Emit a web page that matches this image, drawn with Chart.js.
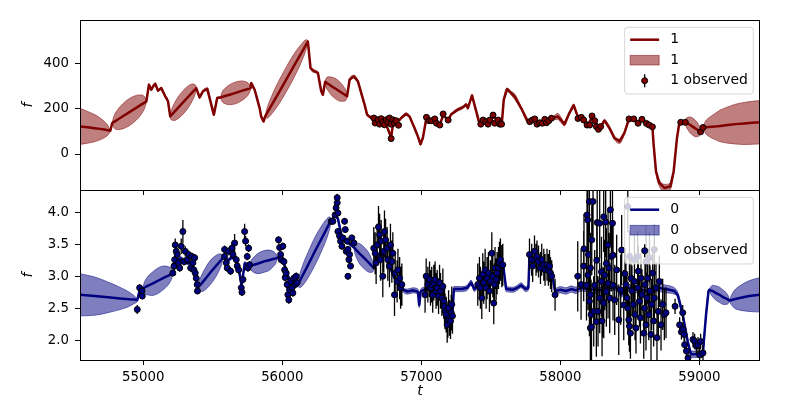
<!DOCTYPE html>
<html>
<head>
<meta charset="utf-8">
<script src="https://cdn.jsdelivr.net/npm/chart.js@4.4.1/dist/chart.umd.min.js"></script>
<style>
  html, body { margin: 0; padding: 0; background: #fff; }
  #wrap { position: relative; width: 800px; height: 400px; }
  #wrap canvas { position: absolute; left: 0; top: 0; }
</style>
</head>
<body>
<div id="wrap">
  <canvas id="top-chart" width="800" height="400"></canvas>
  <canvas id="bottom-chart" width="800" height="400"></canvas>
</div>
<script>
// shared x range and ticks
const xMin = 54545, xMax = 59436;
const xTicks = [55000, 56000, 57000, 58000, 59000];
const topYTicks = [0, 200, 400];
const botYTicks = [2.0, 2.5, 3.0, 3.5, 4.0];
const topLabels = ['1', '1', '1 observed'];
const botLabels = ['0', '0', '0 observed'];

// top panel model: [t, f, sigma]
const topLine = [
  [54545, 122, 80], [54600, 118, 70], [54650, 114, 60], [54690, 111, 48], [54720, 108, 36], [54745, 105, 22], [54763, 103, 3],
  [54777, 137, 3], [54787, 141, 23], [54814, 151, 43], [54851, 166, 55], [54900, 185, 60], [54949, 204, 55],
  [54985, 218, 43], [55012, 228, 23], [55022, 232, 4],
  [55041, 306, 5], [55058, 284, 5], [55072, 300, 5], [55086, 310, 5], [55106, 280, 5], [55129, 291, 5], [55158, 255, 5],
  [55178, 233, 5], [55194, 166, 4],
  [55201, 171, 20], [55222, 185, 37], [55250, 204, 48], [55288, 229, 52], [55325, 254, 48], [55353, 272, 37],
  [55374, 286, 20], [55381, 291, 4],
  [55405, 250, 5], [55429, 277, 5], [55460, 288, 5], [55508, 174, 5], [55532, 247, 5], [55556, 250, 4],
  [55565, 252, 19], [55588, 256, 34], [55621, 262, 44], [55664, 270, 48], [55707, 279, 44], [55740, 285, 34],
  [55763, 289, 19], [55772, 291, 4],
  [55776, 313, 5], [55801, 284, 5], [55837, 203, 5], [55848, 166, 5], [55866, 144, 5], [55877, 166, 4],
  [55889, 179, 21], [55923, 216, 39], [55969, 265, 51], [56030, 331, 55], [56092, 398, 51], [56138, 447, 39],
  [56172, 484, 21], [56184, 497, 4],
  [56203, 380, 5], [56232, 365, 5], [56256, 358, 5], [56280, 277, 5], [56292, 262, 5], [56308, 318, 4],
  [56314, 315, 18], [56332, 309, 32], [56355, 299, 41], [56387, 287, 45], [56419, 274, 41], [56442, 265, 32],
  [56460, 258, 18], [56466, 255, 4],
  [56484, 328, 5], [56515, 343, 5], [56544, 321, 5], [56568, 269, 5], [56592, 218, 5], [56610, 174, 5], [56635, 162, 4],
  [56660, 145, 4], [56700, 150, 4], [56740, 140, 4], [56783, 75, 4], [56800, 145, 4], [56843, 150, 4],
  [56855, 159, 5], [56891, 177, 5], [56915, 166, 5], [56951, 115, 5], [56975, 78, 6], [56994, 44, 6], [57011, 71, 5],
  [57037, 159, 4], [57060, 148, 4], [57100, 140, 4], [57133, 130, 4], [57157, 170, 4], [57193, 152, 4],
  [57214, 174, 5], [57262, 196, 6], [57298, 206, 6], [57322, 218, 6], [57334, 203, 6], [57365, 258, 6], [57382, 218, 6],
  [57418, 137, 5], [57450, 145, 4], [57492, 145, 4], [57516, 165, 4], [57550, 148, 4], [57579, 135, 4],
  [57593, 240, 5], [57617, 286, 6], [57646, 269, 8], [57672, 253, 12], [57718, 203, 6], [57766, 144, 5],
  [57800, 148, 4], [57840, 138, 4], [57880, 138, 4], [57936, 155, 4],
  [57960, 162, 10], [57981, 166, 14], [58005, 150, 12], [58029, 132, 8], [58065, 181, 6], [58096, 215, 6],
  [58120, 174, 5], [58137, 155, 4],
  [58160, 158, 4], [58200, 132, 4], [58228, 162, 4], [58254, 140, 4], [58274, 112, 4], [58290, 121, 4],
  [58317, 147, 6], [58353, 115, 8], [58389, 71, 8], [58425, 56, 10], [58461, 93, 8], [58494, 155, 4],
  [58528, 155, 4], [58559, 138, 4], [58587, 150, 4], [58619, 137, 4], [58638, 129, 4], [58662, 120, 4],
  [58671, 41, 6], [58688, -77, 10], [58712, -128, 14], [58748, -150, 16], [58791, -143, 14], [58815, -77, 10],
  [58839, 71, 6], [58856, 138, 4], [58866, 140, 4], [58899, 141, 4],
  [58903, 140, 15], [58916, 135, 27], [58932, 129, 35], [58954, 120, 38], [58976, 111, 35], [58993, 105, 27],
  [59005, 100, 15], [59009, 98, 3], [59026, 117, 3],
  [59030, 117, 10], [59045, 118, 28], [59070, 119, 42], [59108, 121, 56], [59150, 124, 70], [59203, 128, 80],
  [59260, 132, 88], [59323, 135, 93], [59380, 138, 95], [59436, 140, 96]
];

// top observations: [t, f, err]
const topObs = [
  [56659, 159, 3], [56668, 137, 3], [56688, 151, 3], [56700, 132, 3], [56711, 156, 3], [56723, 141, 3],
  [56735, 129, 3], [56747, 151, 3], [56759, 141, 3], [56771, 159, 3], [56783, 132, 3], [56783, 68, 3],
  [56795, 151, 3], [56807, 137, 3], [56819, 147, 3], [56836, 127, 3],
  [57037, 162, 3], [57056, 147, 3], [57073, 147, 3], [57097, 155, 3], [57109, 136, 3], [57133, 128, 3],
  [57157, 177, 3], [57193, 150, 3],
  [57428, 132, 3], [57444, 150, 3], [57464, 143, 3], [57480, 132, 3], [57492, 150, 3], [57516, 172, 3],
  [57528, 136, 3], [57552, 150, 3], [57564, 132, 3], [57577, 132, 3],
  [57780, 143, 3], [57799, 150, 3], [57816, 155, 3], [57832, 132, 3], [57852, 138, 3], [57871, 136, 3],
  [57888, 153, 3], [57900, 138, 3], [57917, 147, 3], [57936, 158, 3],
  [58127, 157, 3], [58151, 162, 3], [58168, 150, 3], [58192, 128, 3], [58211, 128, 3], [58228, 168, 3],
  [58247, 147, 3], [58259, 121, 3], [58274, 109, 3], [58290, 121, 3],
  [58494, 155, 3], [58528, 155, 3], [58559, 136, 3], [58587, 153, 3], [58619, 135, 3], [58638, 128, 3], [58662, 120, 3],
  [58866, 140, 3], [58899, 140, 3], [59009, 98, 3], [59026, 117, 3]
];

// bottom panel model: [t, f, sigma]
const botLine = [
  [54545, 2.71, 0.33], [54650, 2.69, 0.30], [54746, 2.67, 0.24], [54850, 2.65, 0.16], [54900, 2.64, 0.11],
  [54935, 2.635, 0.06], [54957, 2.63, 0.02], [54974, 2.78, 0.02], [54998, 2.81, 0.02],
  [55007, 2.82, 0.08], [55030, 2.85, 0.14], [55063, 2.88, 0.18], [55106, 2.93, 0.20], [55149, 2.98, 0.18],
  [55181, 3.01, 0.14], [55204, 3.04, 0.08], [55213, 3.05, 0.02],
  [55240, 3.25, 0.03], [55270, 3.28, 0.03], [55300, 3.22, 0.03], [55340, 3.20, 0.03], [55370, 3.05, 0.03], [55393, 2.82, 0.02],
  [55400, 2.84, 0.07], [55420, 2.89, 0.13], [55447, 2.96, 0.17], [55483, 3.06, 0.19], [55519, 3.15, 0.17],
  [55546, 3.22, 0.13], [55566, 3.27, 0.07], [55573, 3.29, 0.02],
  [55610, 3.25, 0.03], [55640, 3.30, 0.03], [55680, 3.20, 0.03], [55707, 2.86, 0.03], [55730, 3.20, 0.03], [55767, 3.16, 0.02],
  [55775, 3.17, 0.07], [55796, 3.18, 0.12], [55826, 3.20, 0.16], [55865, 3.23, 0.17], [55904, 3.25, 0.16],
  [55934, 3.27, 0.12], [55955, 3.28, 0.07], [55963, 3.29, 0.02],
  [55990, 3.30, 0.03], [56020, 3.15, 0.03], [56050, 2.95, 0.03], [56080, 2.88, 0.03], [56112, 2.87, 0.02],
  [56122, 2.91, 0.09], [56148, 3.02, 0.16], [56184, 3.17, 0.20], [56232, 3.38, 0.22], [56280, 3.58, 0.20],
  [56316, 3.73, 0.16], [56342, 3.84, 0.09], [56352, 3.88, 0.02],
  [56380, 3.95, 0.03], [56400, 3.90, 0.03], [56430, 3.60, 0.03], [56460, 3.55, 0.03], [56490, 3.50, 0.03], [56515, 3.45, 0.02],
  [56521, 3.44, 0.07], [56536, 3.40, 0.12], [56558, 3.35, 0.16], [56587, 3.29, 0.17], [56615, 3.23, 0.16],
  [56637, 3.18, 0.12], [56652, 3.14, 0.07], [56658, 3.13, 0.02],
  [56700, 3.35, 0.03], [56750, 3.30, 0.03], [56800, 3.00, 0.03], [56860, 2.80, 0.03],
  [56900, 2.76, 0.04], [56940, 2.78, 0.04], [56975, 2.76, 0.04], [56985, 2.55, 0.04], [56995, 2.76, 0.04],
  [57030, 2.80, 0.03], [57080, 2.78, 0.03], [57130, 2.72, 0.03], [57170, 2.55, 0.03], [57200, 2.42, 0.03], [57225, 2.45, 0.03],
  [57234, 2.80, 0.04], [57290, 2.80, 0.04], [57330, 2.82, 0.04], [57358, 2.90, 0.04], [57382, 2.80, 0.04],
  [57406, 2.85, 0.03], [57450, 2.95, 0.03], [57500, 3.00, 0.03], [57550, 3.10, 0.03], [57590, 3.15, 0.03],
  [57610, 2.80, 0.04], [57660, 2.79, 0.04], [57690, 2.82, 0.04], [57718, 2.86, 0.04], [57750, 2.80, 0.04], [57770, 2.82, 0.04],
  [57778, 3.30, 0.03], [57830, 3.28, 0.03], [57880, 3.20, 0.03], [57940, 3.05, 0.03], [57962, 2.77, 0.04],
  [58000, 2.79, 0.05], [58040, 2.77, 0.05], [58080, 2.80, 0.05], [58110, 2.78, 0.05], [58150, 2.82, 0.05],
  [58200, 2.80, 0.05], [58280, 2.78, 0.05], [58340, 2.82, 0.05], [58400, 2.83, 0.05], [58440, 2.72, 0.05],
  [58470, 2.84, 0.05], [58520, 2.80, 0.05], [58600, 2.78, 0.05], [58660, 2.75, 0.05], [58700, 2.82, 0.06],
  [58760, 2.80, 0.06], [58820, 2.77, 0.05], [58844, 2.71, 0.04], [58880, 2.40, 0.04], [58916, 1.98, 0.05],
  [58940, 1.78, 0.05], [59024, 1.78, 0.05], [59048, 2.40, 0.04], [59066, 2.77, 0.03], [59074, 2.79, 0.02],
  [59080, 2.78, 0.05], [59095, 2.77, 0.09], [59117, 2.74, 0.11], [59145, 2.71, 0.12], [59173, 2.67, 0.11],
  [59194, 2.65, 0.09], [59210, 2.63, 0.05], [59216, 2.62, 0.01],
  [59220, 2.62, 0.03], [59232, 2.63, 0.08], [59252, 2.64, 0.14], [59290, 2.66, 0.19], [59357, 2.69, 0.24], [59436, 2.71, 0.27]
];

// bottom observations: [t, f, err]
const botObs = [
  [54957, 2.48, 0.07], [54974, 2.82, 0.05], [54991, 2.77, 0.05], [54993, 2.69, 0.05],
  [55213, 3.05, 0.05], [55221, 3.16, 0.06], [55226, 3.26, 0.06], [55230, 3.49, 0.10], [55237, 3.39, 0.08],
  [55244, 3.34, 0.06], [55254, 3.21, 0.06], [55262, 3.13, 0.06], [55273, 3.47, 0.12], [55285, 3.70, 0.18],
  [55293, 3.23, 0.06], [55302, 3.39, 0.08], [55316, 3.26, 0.06], [55326, 3.34, 0.06], [55341, 3.13, 0.06],
  [55350, 3.31, 0.06], [55357, 3.21, 0.06], [55364, 3.10, 0.06], [55370, 3.29, 0.06], [55374, 3.05, 0.06],
  [55381, 2.97, 0.06], [55388, 2.87, 0.06], [55390, 2.77, 0.05],
  [55585, 3.42, 0.06], [55585, 3.31, 0.06], [55597, 3.21, 0.06], [55604, 3.13, 0.06], [55614, 3.39, 0.06],
  [55628, 3.08, 0.06], [55638, 3.44, 0.08], [55645, 3.34, 0.06], [55657, 3.52, 0.14], [55669, 3.26, 0.06],
  [55676, 3.16, 0.06], [55686, 3.10, 0.06], [55705, 2.82, 0.06], [55710, 2.75, 0.06], [55717, 2.95, 0.06],
  [55729, 3.70, 0.12], [55736, 3.55, 0.08], [55748, 3.31, 0.06], [55753, 3.13, 0.06], [55758, 3.44, 0.06], [55765, 3.18, 0.06],
  [55973, 3.57, 0.06], [55981, 3.45, 0.06], [55988, 3.34, 0.06], [55992, 3.26, 0.06], [56004, 3.47, 0.06],
  [56012, 3.23, 0.06], [56017, 3.10, 0.06], [56021, 2.98, 0.06], [56028, 3.05, 0.06], [56035, 2.87, 0.06],
  [56040, 2.71, 0.06], [56047, 2.63, 0.06], [56052, 2.79, 0.06], [56060, 2.92, 0.06], [56069, 2.82, 0.06],
  [56076, 2.74, 0.06], [56083, 2.97, 0.06], [56093, 2.87, 0.06], [56100, 3.00, 0.06], [56107, 2.90, 0.06],
  [56352, 3.86, 0.05], [56364, 3.86, 0.05], [56380, 3.96, 0.05], [56387, 4.07, 0.05], [56395, 4.15, 0.05],
  [56395, 4.23, 0.06], [56400, 3.99, 0.05], [56400, 3.70, 0.05], [56412, 3.63, 0.05], [56419, 3.55, 0.05],
  [56429, 3.47, 0.05], [56436, 3.60, 0.05], [56448, 3.86, 0.05], [56453, 3.73, 0.05], [56460, 3.39, 0.05],
  [56467, 3.55, 0.05], [56472, 3.42, 0.05], [56472, 3.00, 0.05], [56479, 3.26, 0.05], [56484, 3.34, 0.05],
  [56491, 3.16, 0.05], [56500, 3.60, 0.05], [56515, 3.52, 0.05],
  [56658, 3.44, 0.33], [56668, 3.36, 0.33], [56675, 3.21, 0.33], [56682, 3.49, 0.33], [56692, 3.77, 0.33],
  [56700, 3.65, 0.33], [56707, 3.26, 0.33], [56711, 3.55, 0.33], [56723, 3.00, 0.33], [56730, 3.39, 0.33],
  [56735, 3.70, 0.33], [56743, 3.57, 0.33], [56754, 3.44, 0.33], [56759, 3.26, 0.33], [56771, 3.16, 0.33],
  [56778, 3.49, 0.33], [56788, 3.23, 0.33], [56795, 3.36, 0.33], [56807, 2.71, 0.33], [56812, 3.05, 0.33],
  [56826, 2.92, 0.33], [56832, 3.10, 0.33], [56844, 2.97, 0.33], [56851, 2.82, 0.33], [56860, 2.87, 0.33],
  [57027, 2.71, 0.28], [57035, 3.00, 0.28], [57047, 2.87, 0.28], [57059, 2.95, 0.28], [57066, 2.82, 0.28],
  [57075, 2.87, 0.28], [57082, 2.71, 0.28], [57090, 2.90, 0.28], [57099, 2.95, 0.28], [57106, 2.77, 0.28],
  [57114, 2.82, 0.28], [57124, 2.69, 0.28], [57131, 2.90, 0.28], [57138, 2.77, 0.28], [57148, 2.66, 0.28],
  [57155, 2.84, 0.28], [57162, 2.61, 0.28], [57167, 2.53, 0.28], [57171, 2.45, 0.28], [57179, 2.40, 0.28],
  [57186, 2.24, 0.28], [57191, 2.32, 0.28], [57196, 2.50, 0.28], [57203, 2.35, 0.28], [57210, 2.30, 0.28],
  [57215, 2.43, 0.28], [57219, 2.56, 0.28], [57224, 2.38, 0.28],
  [57406, 2.87, 0.33], [57418, 2.97, 0.33], [57425, 2.82, 0.33], [57435, 2.66, 0.33], [57442, 3.03, 0.33],
  [57449, 2.90, 0.33], [57459, 3.10, 0.33], [57466, 2.82, 0.33], [57473, 2.97, 0.33], [57483, 3.05, 0.33],
  [57490, 2.77, 0.33], [57497, 2.92, 0.33], [57507, 3.36, 0.33], [57514, 3.00, 0.33], [57521, 2.58, 0.33],
  [57526, 2.87, 0.33], [57530, 3.13, 0.33], [57538, 2.95, 0.33], [57545, 3.05, 0.33], [57555, 3.13, 0.33],
  [57562, 3.21, 0.33], [57569, 3.26, 0.33], [57579, 3.16, 0.33], [57586, 3.18, 0.33],
  [57778, 3.34, 0.25], [57794, 3.26, 0.25], [57801, 3.16, 0.25], [57814, 3.39, 0.25], [57825, 3.26, 0.25],
  [57832, 3.31, 0.25], [57843, 3.23, 0.25], [57857, 3.13, 0.25], [57866, 3.26, 0.25], [57881, 3.18, 0.25],
  [57890, 3.10, 0.25], [57904, 3.18, 0.25], [57914, 3.10, 0.25], [57922, 3.16, 0.25], [57929, 3.05, 0.25],
  [57938, 3.00, 0.25], [57962, 2.71, 0.25],
  [58125, 3.00, 0.55], [58149, 2.87, 0.55], [58168, 3.16, 0.55], [58170, 3.43, 0.55], [58188, 2.86, 0.55],
  [58192, 3.96, 0.55], [58197, 3.88, 0.55], [58199, 3.02, 0.55], [58202, 3.34, 0.55], [58209, 4.17, 0.55],
  [58209, 2.61, 0.55], [58216, 3.13, 0.55], [58216, 2.71, 0.55], [58216, 2.19, 0.55], [58221, 2.40, 0.55],
  [58224, 2.21, 0.55], [58226, 3.57, 0.55], [58235, 4.17, 0.55], [58240, 2.45, 0.55], [58247, 2.86, 0.55],
  [58259, 2.29, 0.55], [58262, 3.25, 0.55], [58265, 3.84, 0.55], [58271, 2.45, 0.55], [58283, 3.83, 0.55],
  [58283, 2.66, 0.55], [58296, 3.07, 0.55], [58296, 2.92, 0.55], [58300, 2.30, 0.55], [58307, 2.60, 0.55],
  [58312, 3.93, 0.55], [58312, 2.58, 0.55], [58319, 3.02, 0.55], [58326, 3.85, 0.55], [58331, 3.20, 0.55],
  [58331, 2.76, 0.55], [58343, 3.49, 0.55], [58343, 2.89, 0.55], [58350, 3.13, 0.55], [58355, 2.66, 0.55],
  [58360, 4.04, 0.55], [58367, 3.31, 0.55], [58375, 3.83, 0.55], [58379, 3.33, 0.55], [58379, 2.86, 0.55],
  [58391, 2.63, 0.55], [58405, 3.10, 0.55], [58420, 2.32, 0.55], [58434, 2.79, 0.55], [58441, 3.41, 0.55], [58456, 2.55, 0.55],
  [58465, 3.04, 0.40], [58472, 2.87, 0.40], [58479, 2.66, 0.40], [58485, 2.50, 0.40], [58485, 4.09, 0.40],
  [58492, 2.32, 0.40], [58497, 2.22, 0.40], [58497, 3.31, 0.40], [58504, 2.11, 0.40], [58508, 2.97, 0.40],
  [58515, 2.77, 0.40], [58525, 2.56, 0.40], [58533, 2.92, 0.40], [58533, 3.26, 0.40], [58537, 2.40, 0.40],
  [58544, 2.19, 0.40], [58556, 2.82, 0.40], [58556, 3.31, 0.40], [58561, 3.08, 0.40], [58569, 2.61, 0.40],
  [58576, 2.35, 0.40], [58580, 2.97, 0.40], [58587, 2.71, 0.40], [58600, 2.11, 0.40], [58605, 2.50, 0.40],
  [58609, 2.87, 0.40], [58616, 2.24, 0.40], [58616, 3.39, 0.40], [58616, 3.23, 0.40], [58623, 2.66, 0.40],
  [58628, 2.97, 0.40], [58636, 2.40, 0.40], [58641, 3.29, 0.40], [58645, 2.77, 0.40], [58652, 2.09, 0.40],
  [58657, 2.56, 0.40], [58664, 3.05, 0.40], [58671, 2.30, 0.40], [58676, 2.66, 0.40], [58676, 3.42, 0.40],
  [58688, 2.82, 0.40], [58695, 2.04, 0.40], [58705, 2.45, 0.40], [58712, 2.92, 0.40], [58724, 2.24, 0.40],
  [58736, 2.56, 0.40], [58748, 2.40, 0.40], [58760, 2.43, 0.40],
  [58825, 2.53, 0.12], [58858, 2.24, 0.12], [58871, 2.13, 0.12], [58880, 2.43, 0.12], [58882, 2.17, 0.12],
  [58890, 2.09, 0.12], [58894, 1.93, 0.12], [58907, 1.83, 0.12], [58918, 1.72, 0.12], [58954, 2.01, 0.12],
  [58966, 1.98, 0.12], [58978, 1.91, 0.12], [58990, 1.93, 0.12], [59002, 1.77, 0.12], [59009, 1.98, 0.12], [59026, 1.80, 0.12]
];

const FONT = "'DejaVu Sans', sans-serif";

// vertical error bars under each observation marker
const errorBarPlugin = {
  id: 'errorBars',
  beforeDatasetDraw(chart, args) {
    const ds = chart.data.datasets[args.index];
    if (!ds.errorBars) return;
    const ctx = chart.ctx, a = chart.chartArea, y = chart.scales.y;
    ctx.save();
    ctx.beginPath();
    ctx.rect(a.left, a.top, a.right - a.left, a.bottom - a.top);
    ctx.clip();
    ctx.strokeStyle = '#000';
    ctx.lineWidth = 1.3;
    ctx.beginPath();
    args.meta.data.forEach((pt, i) => {
      const d = ds.data[i];
      ctx.moveTo(pt.x, y.getPixelForValue(d.y - d.e));
      ctx.lineTo(pt.x, y.getPixelForValue(d.y + d.e));
    });
    ctx.stroke();
    ctx.restore();
  }
};

function roundRectPath(ctx, x, y, w, h, r) {
  ctx.beginPath();
  ctx.moveTo(x + r, y);
  ctx.arcTo(x + w, y, x + w, y + h, r);
  ctx.arcTo(x + w, y + h, x, y + h, r);
  ctx.arcTo(x, y + h, x, y, r);
  ctx.arcTo(x, y, x + w, y, r);
  ctx.closePath();
}

// axes frame + matplotlib style legend
const framePlugin = {
  id: 'frameLegend',
  afterDraw(chart) {
    const ctx = chart.ctx, a = chart.chartArea;
    ctx.save();
    ctx.strokeStyle = '#000';
    ctx.lineWidth = 1;
    ctx.strokeRect(Math.round(a.left) + 0.5, Math.round(a.top) + 0.5,
                   Math.round(a.right - a.left) - 1, Math.round(a.bottom - a.top));

    const items = chart.data.datasets.filter(d => d.legendKind)
      .sort((p, q) => p.legendRank - q.legendRank);
    ctx.font = '13.9px ' + FONT;
    const textW = Math.max(...items.map(d => ctx.measureText(d.label).width));
    const w = 5.5 + 29 + 11 + textW + 5.5;
    const rowH = 20.5;
    const h = 12.4 + (items.length - 1) * rowH + 13.3;
    const x0 = a.right - 6.7 - w, y0 = a.top + 7.3;
    roundRectPath(ctx, x0, y0, w, h, 3);
    ctx.fillStyle = 'rgba(255,255,255,0.8)';
    ctx.fill();
    ctx.strokeStyle = 'rgba(204,204,204,0.8)';
    ctx.stroke();

    items.forEach((d, i) => {
      const cy = y0 + 12.4 + i * rowH;
      const hx = x0 + 5.5;
      if (d.legendKind === 'line') {
        ctx.strokeStyle = d.borderColor;
        ctx.lineWidth = d.borderWidth;
        ctx.beginPath(); ctx.moveTo(hx, cy); ctx.lineTo(hx + 29, cy); ctx.stroke();
      } else if (d.legendKind === 'patch') {
        ctx.fillStyle = d.backgroundColor;
        ctx.fillRect(hx, cy - 4.8, 29, 9.6);
        ctx.strokeStyle = d.borderColor;
        ctx.lineWidth = 1;
        ctx.strokeRect(hx, cy - 4.8, 29, 9.6);
      } else {
        ctx.strokeStyle = '#000';
        ctx.lineWidth = 1.3;
        ctx.beginPath(); ctx.moveTo(hx + 14.5, cy - 6.5); ctx.lineTo(hx + 14.5, cy + 6.5); ctx.stroke();
        ctx.beginPath(); ctx.arc(hx + 14.5, cy, 3, 0, Math.PI * 2);
        ctx.fillStyle = d.pointBackgroundColor;
        ctx.fill();
        ctx.lineWidth = 1;
        ctx.stroke();
      }
      ctx.fillStyle = '#000';
      ctx.textBaseline = 'middle';
      ctx.textAlign = 'left';
      ctx.fillText(d.label, hx + 40, cy);
    });
    ctx.restore();
  }
};

function buildDatasets(line, obs, labels, color, band) {
  return [
    {
      type: 'scatter', label: labels[2], legendKind: 'marker', legendRank: 2, errorBars: true, order: 0,
      data: obs.map(r => ({ x: r[0], y: r[1], e: r[2] })),
      pointRadius: 3, pointBackgroundColor: color, pointBorderColor: '#000', pointBorderWidth: 1,
      showLine: false, clip: 0
    },
    {
      type: 'line', label: labels[0], legendKind: 'line', legendRank: 0, order: 1,
      data: line.map(r => ({ x: r[0], y: r[1] })),
      borderColor: color, borderWidth: 2.5, pointRadius: 0, tension: 0,
      borderJoinStyle: 'round', fill: false, clip: 0
    },
    {
      type: 'line', label: labels[1], legendKind: 'patch', legendRank: 1, order: 2,
      data: line.map(r => ({ x: r[0], y: r[1] + r[2] })),
      borderColor: band, backgroundColor: band, borderWidth: 1, pointRadius: 0,
      cubicInterpolationMode: 'monotone', fill: '+1', clip: 0
    },
    {
      type: 'line', label: '', order: 2,
      data: line.map(r => ({ x: r[0], y: r[1] - r[2] })),
      borderColor: band, borderWidth: 1, pointRadius: 0,
      cubicInterpolationMode: 'monotone', fill: false, clip: 0
    }
  ];
}

function makeChart(id, opts) {
  const tickFont = { family: FONT, size: 13.3 };
  return new Chart(document.getElementById(id), {
    type: 'line',
    data: { datasets: opts.datasets },
    options: {
      responsive: false, animation: false, devicePixelRatio: 1, events: [],
      layout: { padding: { left: 0, right: 40, top: opts.top, bottom: 0 } },
      plugins: { legend: { display: false }, tooltip: { enabled: false } },
      scales: {
        x: {
          type: 'linear', min: xMin, max: xMax,
          afterBuildTicks: s => { s.ticks = xTicks.map(v => ({ value: v })); },
          afterFit: s => { s.height = opts.xHeight; },
          grid: { drawOnChartArea: false, drawTicks: true, tickLength: 5, color: '#000', lineWidth: 1 },
          border: { display: false },
          ticks: { display: opts.xLabels, padding: 5, color: '#000', font: tickFont,
                   maxRotation: 0, autoSkip: false, callback: v => String(v) },
          title: { display: opts.xLabels, text: 't', color: '#000',
                   font: { family: FONT, size: 14, style: 'italic' }, padding: { top: 0, bottom: 0 } }
        },
        y: {
          type: 'linear', min: opts.yMin, max: opts.yMax,
          afterBuildTicks: s => { s.ticks = opts.yTicks.map(v => ({ value: v })); },
          afterFit: s => { s.width = 80; },
          grid: { drawOnChartArea: false, drawTicks: true, tickLength: 5, color: '#000', lineWidth: 1 },
          border: { display: false },
          ticks: { padding: 6, color: '#000', font: tickFont, callback: opts.yFormat },
          title: { display: true, text: 'f', color: '#000',
                   font: { family: FONT, size: 14, style: 'italic' }, padding: { top: 20, bottom: 0 } }
        }
      }
    },
    plugins: [errorBarPlugin, framePlugin]
  });
}

makeChart('top-chart', {
  datasets: buildDatasets(topLine, topObs, topLabels, '#800000', 'rgba(128,0,0,0.5)'),
  top: 20, xHeight: 210, xLabels: false,
  yMin: -159, yMax: 592, yTicks: topYTicks, yFormat: v => String(v)
});

makeChart('bottom-chart', {
  datasets: buildDatasets(botLine, botObs, botLabels, '#000080', 'rgba(0,0,128,0.5)'),
  top: 190, xHeight: 40, xLabels: true,
  yMin: 1.69, yMax: 4.35, yTicks: botYTicks, yFormat: v => Number(v).toFixed(1)
});
</script>
</body>
</html>
